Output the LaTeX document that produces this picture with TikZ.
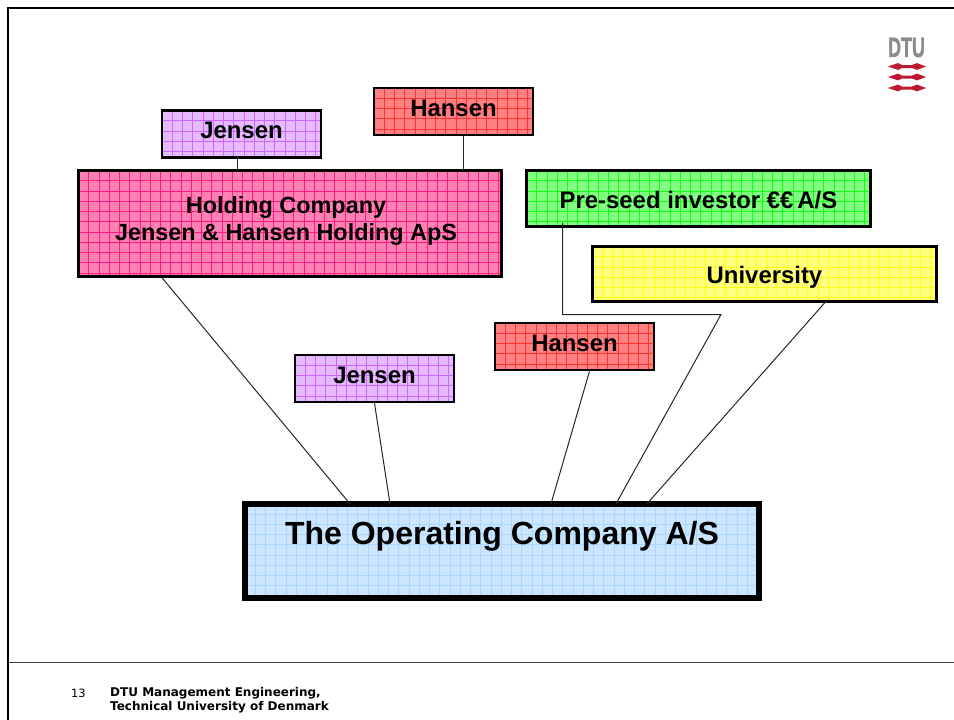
\documentclass[tikz,border=0pt]{standalone}
\usepackage{fontspec}
\setmainfont{Liberation Sans}
\newfontfamily\footfont{DejaVu Sans}
\newfontfamily\logofont[FakeBold=1.6]{Liberation Sans}
\usetikzlibrary{calc}

\tikzset{
    gridbox/.style n args={2}{draw=black, line width=2.5pt, fill=#1, inner sep=0pt, align=center, font=\bfseries\fontsize{23.9}{27}\selectfont,
        path picture={
            \foreach \i in {1,...,60} {
                \draw[#2, line width=0.6pt] ([xshift=\i*10.25pt]path picture bounding box.north west) -- ([xshift=\i*10.25pt]path picture bounding box.south west);
            }
            \foreach \i in {1,...,12} {
                \draw[#2, line width=0.6pt] ([yshift=-\i*10.25pt]path picture bounding box.north west) -- ([yshift=-\i*10.25pt]path picture bounding box.north east);
            }
        }},
    personbox/.style={minimum width=159pt, minimum height=47pt},
    jensenbox/.style={gridbox={jensenfill}{jensenline}, personbox},
    hansenbox/.style={gridbox={hansenfill}{hansenline}, personbox},
    wire/.style={draw=black!85, line width=1pt},
    logobar/.style={fill=dtured, draw=none},
    foottext/.style={inner sep=0pt, anchor=west, font=\footfont\fontsize{11.4}{14}\selectfont}
}
\definecolor{jensenfill}{RGB}{230,186,255}
\definecolor{jensenline}{RGB}{204,102,255}
\definecolor{hansenfill}{RGB}{255,128,128}
\definecolor{hansenline}{RGB}{255,51,51}
\definecolor{holdingfill}{RGB}{255,128,179}
\definecolor{holdingline}{RGB}{255,26,133}
\definecolor{seedfill}{RGB}{128,255,128}
\definecolor{seedline}{RGB}{20,255,20}
\definecolor{unifill}{RGB}{255,255,128}
\definecolor{uniline}{RGB}{255,255,20}
\definecolor{opfill}{RGB}{204,230,255}
\definecolor{opline}{RGB}{170,214,255}
\definecolor{dtured}{RGB}{190,25,50}

\begin{document}
\begin{tikzpicture}[x=1pt, y=-1pt]
    \useasboundingbox (0,0) rectangle (954,720);

    % frame of the slide
    \coordinate (frameTL) at (8,8);
    \coordinate (frameTR) at (954,8);
    \coordinate (frameBL) at (8,720);
    \coordinate (footL) at (8,662);
    \coordinate (footR) at (954,662);
    \draw[line width=2.8pt] (frameTR) -- (frameTL) -- (frameBL);
    \draw[black!75, line width=1pt] (footL) -- (footR);

    % boxes
    \node[jensenbox] (jensenA) at (241.5,134) {\raisebox{-4.5pt}[0pt][0pt]{Jensen}};
    \node[hansenbox] (hansenA) at (453.5,111.5) {\raisebox{-5pt}[0pt][0pt]{Hansen}};
    \node[gridbox={holdingfill}{holdingline}, minimum width=423pt, minimum height=106pt, font=\bfseries\fontsize{23.4}{27}\selectfont] (holding) at (290,223.5) {\raisebox{-17pt}[0pt][0pt]{\hspace*{-8pt}\shortstack{Holding Company\\[2pt]Jensen \& Hansen Holding ApS}}};
    \node[gridbox={seedfill}{seedline}, minimum width=344pt, minimum height=56pt] (seed) at (698.5,198.5) {\raisebox{-10pt}[0pt][0pt]{Pre-seed investor €€\kern4pt A/S}};
    \node[gridbox={unifill}{uniline}, minimum width=344pt, minimum height=55pt] (uni) at (764.5,274) {\raisebox{-9.5pt}[0pt][0pt]{University}};
    \node[hansenbox] (hansenB) at (574.5,346.5) {\raisebox{-5pt}[0pt][0pt]{Hansen}};
    \node[jensenbox] (jensenB) at (374.5,378.5) {\raisebox{-5pt}[0pt][0pt]{Jensen}};
    \node[gridbox={opfill}{opline}, line width=5.8pt, minimum width=514pt, minimum height=94pt, font=\bfseries\fontsize{32}{38}\selectfont] (op) at (502,550.7) {\raisebox{6.5pt}[0pt][0pt]{The Operating Company A/S}};

    % connectors
    \coordinate (seedbend) at (562.5,314.5);
    \coordinate (seedkink) at (721,314.5);
    \draw[wire] ([xshift=-4.5pt,yshift=3pt]jensenA.south) -- ([xshift=-4.5pt]jensenA.south |- holding.north);
    \draw[wire] ([xshift=9.5pt]hansenA.south) -- ([xshift=9.5pt]hansenA.south |- holding.north);
    \draw[wire] ([xshift=-128pt]holding.south) -- ([xshift=-152pt,yshift=-3pt]op.north);
    \draw[wire] (jensenB.south) -- ([xshift=-112pt,yshift=-3pt]op.north);
    \draw[wire] ([xshift=15pt]hansenB.south) -- ([xshift=49pt,yshift=-3pt]op.north);
    \draw[wire] ([xshift=-136pt,yshift=5pt]seed.south) -- (seedbend) -- (seedkink) -- ([xshift=114pt,yshift=-3pt]op.north);
    \draw[wire] ([xshift=62.5pt,yshift=2.5pt]uni.south) -- ([xshift=145pt,yshift=-3pt]op.north);

    % logo
    \node[inner sep=0pt, text=black!45] (dtu) at (906.5,47.5) {\logofont\bfseries\fontsize{28}{28}\selectfont\scalebox{0.64}[1]{DTU}};
    \foreach \y in {66.5,77,88} {
        \fill[logobar] (888,\y) -- (898,\y-3.4) -- (902,\y-1.5) -- (912,\y-1.5) -- (917,\y-3.4) -- (926,\y) -- (917,\y+3.4) -- (912,\y+1.5) -- (902,\y+1.5) -- (898,\y+3.4) -- cycle;
    }

    % footer
    \node[foottext] (pagenum) at (71,693) {13};
    \node[foottext, font=\footfont\bfseries\fontsize{12}{14}\selectfont, align=left, anchor=north west] (dept) at (110,687.5) {DTU Management Engineering,\\Technical University of Denmark};
\end{tikzpicture}
\end{document}
